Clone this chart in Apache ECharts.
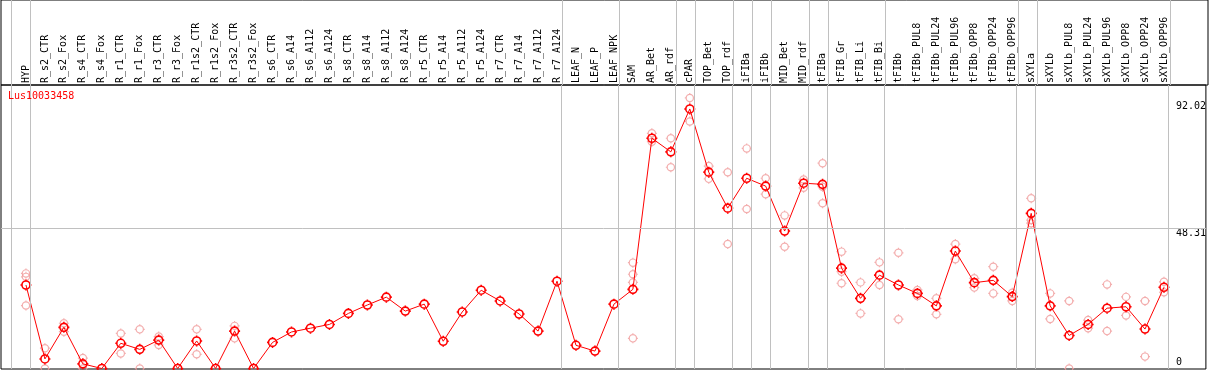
<!DOCTYPE html>
<html>
<head>
<meta charset="utf-8">
<script src="https://cdn.jsdelivr.net/npm/echarts@6/dist/echarts.min.js"></script>
<style>
html,body{margin:0;padding:0;background:#fff;}
#chart{width:1209px;height:370px;}
</style>
</head>
<body>
<div id="chart"></div>
<script>
const geneName = 'Lus10033458';
const categories = ['HYP','R_s2_CTR','R_s2_Fox','R_s4_CTR','R_s4_Fox','R_r1_CTR','R_r1_Fox','R_r3_CTR','R_r3_Fox','R_r1s2_CTR','R_r1s2_Fox','R_r3s2_CTR','R_r3s2_Fox','R_s6_CTR','R_s6_A14','R_s6_A112','R_s6_A124','R_s8_CTR','R_s8_A14','R_s8_A112','R_s8_A124','R_r5_CTR','R_r5_A14','R_r5_A112','R_r5_A124','R_r7_CTR','R_r7_A14','R_r7_A112','R_r7_A124','LEAF_N','LEAF_P','LEAF_NPK','SAM','AR_Bet','AR_rdf','cPAR','TOP_Bet','TOP_rdf','iFIBa','iFIBb','MID_Bet','MID_rdf','tFIBa','tFIB_Gr','tFIB_Li','tFIB_Bi','tFIBb','tFIBb_PUL8','tFIBb_PUL24','tFIBb_PUL96','tFIBb_OPP8','tFIBb_OPP24','tFIBb_OPP96','sXYLa','sXYLb','sXYLb_PUL8','sXYLb_PUL24','sXYLb_PUL96','sXYLb_OPP8','sXYLb_OPP24','sXYLb_OPP96'];
const means = [28.8,3.3,14.2,1.6,0,8.7,6.6,9.8,0,9.5,0,12.9,0,9.0,12.6,13.9,15.2,19.0,21.9,24.6,19.8,22.2,9.4,19.5,27.0,23.3,18.8,12.9,30.1,8.0,6.0,22.2,27.3,79.4,74.7,89.5,67.7,55.3,65.6,62.9,47.4,63.9,63.5,34.6,24.2,32.2,28.8,25.9,21.6,40.5,29.6,30.4,24.8,53.5,21.6,11.4,15.2,20.8,21.3,13.6,28.0];
const replicates = [
 [32.8,31.6,21.7],[7.0,0],[15.6,12.7],[3.6,0],[],[12.1,5.2],[13.5,0],[11.0,8.1],[],[13.5,4.9],[],[14.7,10.4],[],
 [],[],[],[],[],[],[],[],[],[],[],[],[],[],[],[],[],[],[],
 [36.5,32.5,29.7,10.4],[81.1,78.2],[79.4,69.4],[93.3,85.2],[69.8,65.4],[67.7,42.9],[75.9,55.0],[65.6,60.1],[52.8,42.0],[65.2,62.3],[70.8,62.7,57.0],
 [40.3,33.4,29.4],[29.7,19.0],[36.6,28.8],[39.9,17.0],[27.1,25.0],[24.2,18.7],[42.9,37.7],[31.1,27.9],[35.1,25.9],[26.1,23.3],
 [58.7,51.2,50.1],[25.9,17.1],[23.3,0],[16.7,13.9],[29.0,12.9],[24.7,18.3],[23.3,4.1],[29.9,26.3]
];
const groupEnds = [-1,0,28,31,34,35,37,38,39,41,42,45,52,53,60];
const yTickValues = [48.31, 92.02];
const yZeroTick = [0];
const refLine = 48.31;

const FONT = 'DejaVu Sans Mono';
const X_MIN = -25/19, X_MAX = X_MIN + 1207/19;
const SEP_OFF = 0.23;
const markerPath = 'path://M0,-5.5L0,-4M0,4L0,5.5M-5.5,0L-4,0M4,0L5.5,0M4,0A4,4,0,1,1,-4,0A4,4,0,1,1,4,0Z';

const lineData = means.map((v,i)=>[i,v]);
const repData = [];
replicates.forEach((arr,i)=>arr.forEach(v=>repData.push([i,v])));
const sepLines = groupEnds.map(g=>({xAxis: g + SEP_OFF}));

const chart = echarts.init(document.getElementById('chart'), null, {renderer:'canvas'});
chart.setOption({
  animation:false,
  backgroundColor:'#fff',
  title:{text:geneName,left:8,top:91,padding:0,textStyle:{color:'#ff0000',fontSize:10,fontFamily:FONT,fontWeight:'normal'}},
  grid:[
    {left:1,top:85,width:1207,height:284,show:true,borderColor:'#000',borderWidth:1,backgroundColor:'rgba(0,0,0,0)'},
    {left:1,top:0,width:1207,height:85,show:true,borderColor:'#000',borderWidth:1,backgroundColor:'rgba(0,0,0,0)'}
  ],
  xAxis:[
    {type:'value',gridIndex:0,position:'top',min:X_MIN,max:X_MAX,
     axisLine:{show:false},axisTick:{show:false},splitLine:{show:false},
     axisLabel:{customValues:categories.map((c,i)=>i),formatter:v=>categories[Math.round(v)]||'',rotate:90,margin:2,
       fontSize:10,fontFamily:FONT,color:'#000',hideOverlap:false,showMinLabel:true,showMaxLabel:true}},
    {type:'value',gridIndex:1,min:X_MIN,max:X_MAX,show:false}
  ],
  yAxis:[
    {type:'value',gridIndex:0,position:'right',min:-0.17,max:97.76,
     axisLine:{show:false},axisTick:{show:false},splitLine:{show:false},
     axisLabel:{customValues:yTickValues,formatter:v=>String(v),inside:true,align:'left',verticalAlign:'top',margin:30,
       fontSize:10,fontFamily:FONT,color:'#000'}},
    {type:'value',gridIndex:0,position:'right',min:-0.17,max:97.76,
     axisLine:{show:false},axisTick:{show:false},splitLine:{show:false},
     axisLabel:{customValues:yZeroTick,formatter:v=>String(v),inside:true,align:'left',verticalAlign:'bottom',margin:30,
       padding:[0,0,1,0],fontSize:10,fontFamily:FONT,color:'#000'}},
    {type:'value',gridIndex:1,min:0,max:1,show:false}
  ],
  series:[
    {type:'line',xAxisIndex:1,yAxisIndex:2,data:[],silent:true,
     markLine:{silent:true,symbol:'none',label:{show:false},lineStyle:{color:'#c0c0c0',width:1,type:'solid'},data:sepLines}},
    {type:'scatter',xAxisIndex:0,yAxisIndex:0,data:repData,symbol:markerPath,symbolSize:10,z:2,silent:true,
     itemStyle:{color:'rgba(0,0,0,0)',borderColor:'#f09a9a',borderWidth:1.2},
     markLine:{silent:true,symbol:'none',label:{show:false},lineStyle:{color:'#c0c0c0',width:1,type:'solid'},
       data:[{yAxis:refLine}].concat(sepLines)}, z:1},
    {type:'line',xAxisIndex:0,yAxisIndex:0,data:lineData,symbol:markerPath,symbolSize:11,showAllSymbol:true,z:3,silent:true,
     lineStyle:{color:'#ff0000',width:1},
     itemStyle:{color:'rgba(0,0,0,0)',borderColor:'#ff0000',borderWidth:1.6}}
  ]
});
</script>
</body>
</html>
